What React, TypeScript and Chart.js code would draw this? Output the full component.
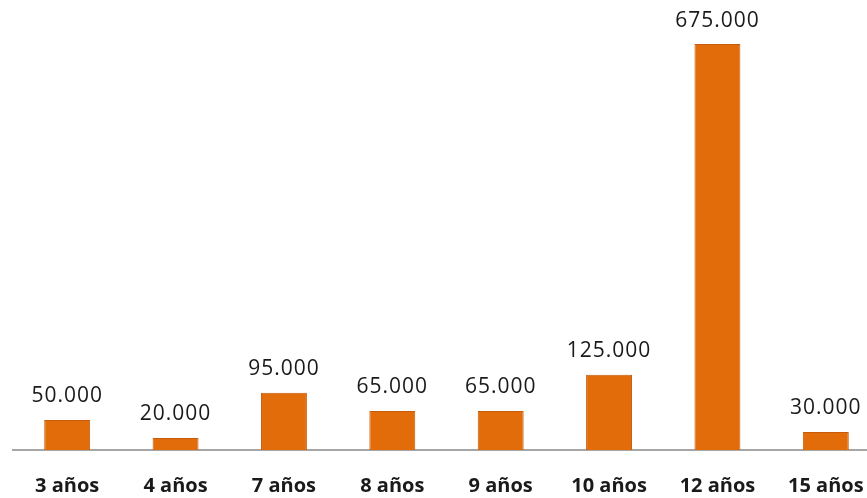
import React, { useEffect, useRef } from "react";
import { Chart, registerables } from "chart.js";

Chart.register(...registerables);

const categories = ["3 años", "4 años", "7 años", "8 años", "9 años", "10 años", "12 años", "15 años"];
const values = [50000, 20000, 95000, 65000, 65000, 125000, 675000, 30000];
const valueLabels = ["50.000", "20.000", "95.000", "65.000", "65.000", "125.000", "675.000", "30.000"];

const labelPlugin = {
  id: "valueLabels",
  afterDatasetsDraw(chart: any) {
    const ctx = chart.ctx;
    const meta = chart.getDatasetMeta(0);
    ctx.save();
    ctx.font = "21px 'Open Sans'";
    (ctx as any).letterSpacing = "1px";
    ctx.fillStyle = "#1a1a1a";
    ctx.textAlign = "center";
    ctx.textBaseline = "bottom";
    meta.data.forEach((bar: any, i: number) => {
      ctx.fillText(valueLabels[i], bar.x, bar.y - 13);
    });
    ctx.restore();
  },
};

export default function App() {
  const ref = useRef<HTMLCanvasElement>(null);
  useEffect(() => {
    document.body.style.margin = "0";
    const chart = new Chart(ref.current!, {
      type: "bar",
      data: {
        labels: categories,
        datasets: [
          {
            data: values,
            backgroundColor: "#E36C0A",
            borderColor: "#C45C0C",
            borderWidth: 1,
            barPercentage: 0.424,
            categoryPercentage: 1,
          },
        ],
      },
      options: {
        responsive: false,
        animation: false,
        layout: { padding: { top: 29, left: 13, right: 10, bottom: 2 } },
        plugins: { legend: { display: false }, tooltip: { enabled: false } },
        scales: {
          x: {
            grid: { display: false, drawTicks: false },
            border: { color: "#A6A6A6", width: 2 },
            ticks: {
              color: "#1a1a1a",
              font: { family: "'Open Sans'", size: 20, weight: "bold" },
              padding: 24,
              maxRotation: 0,
              autoSkip: false,
            },
          },
          y: { display: false, min: 0, max: 700000 },
        },
      },
      plugins: [labelPlugin],
    });
    return () => chart.destroy();
  }, []);
  return (
    <div style={{ position: "relative", width: 867, height: 498, overflow: "hidden" }}>
      <canvas ref={ref} width={890} height={524} style={{ display: "block" }} />
    </div>
  );
}
